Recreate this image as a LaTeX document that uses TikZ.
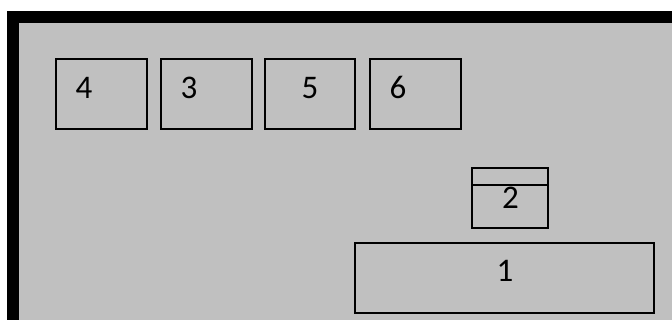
\documentclass[tikz,border=0pt]{standalone}
\usepackage{fontspec}
\setmainfont{Carlito}
\definecolor{panel}{HTML}{C0C0C0}
\begin{document}
\begin{tikzpicture}[x=1pt,y=-1pt,
  box/.style={draw=black,line width=1.6pt,minimum width=#1,inner sep=0pt,outer sep=0pt,fill=panel},
  lbl/.style={anchor=base,inner sep=0pt,font=\fontsize{33}{36}\selectfont}]
\useasboundingbox (0,0) rectangle (672,320);
\fill[white] (0,0) rectangle (672,320);
\fill[black] (7,11) rectangle (672,320);
\fill[panel] (19,23) rectangle (672,320);
% boxes
\node[box=91pt,minimum height=70pt] (b4) at (101.5,94) {};
\node[box=91pt,minimum height=70pt] (b3) at (206.5,94) {};
\node[box=90pt,minimum height=70pt] (b5) at (310,94) {};
\node[box=91pt,minimum height=70pt] (b6) at (415.5,94) {};
\node[box=76pt,minimum height=60pt] (b2) at (510,198) {};
\draw[line width=1.6pt] (b2.west |- 0,185) -- (b2.east |- 0,185);
\node[box=299pt,minimum height=70pt] (b1) at (504.5,278) {};
% labels
\node[lbl] (t4) at (84,99) {4};
\node[lbl] (t3) at (189,99) {3};
\node[lbl] (t5) at (310,99) {5};
\node[lbl] (t6) at (398,99) {6};
\node[lbl] (t2) at (510.5,209) {2};
\node[lbl] (t1) at (505,282) {1};
\end{tikzpicture}
\end{document}
